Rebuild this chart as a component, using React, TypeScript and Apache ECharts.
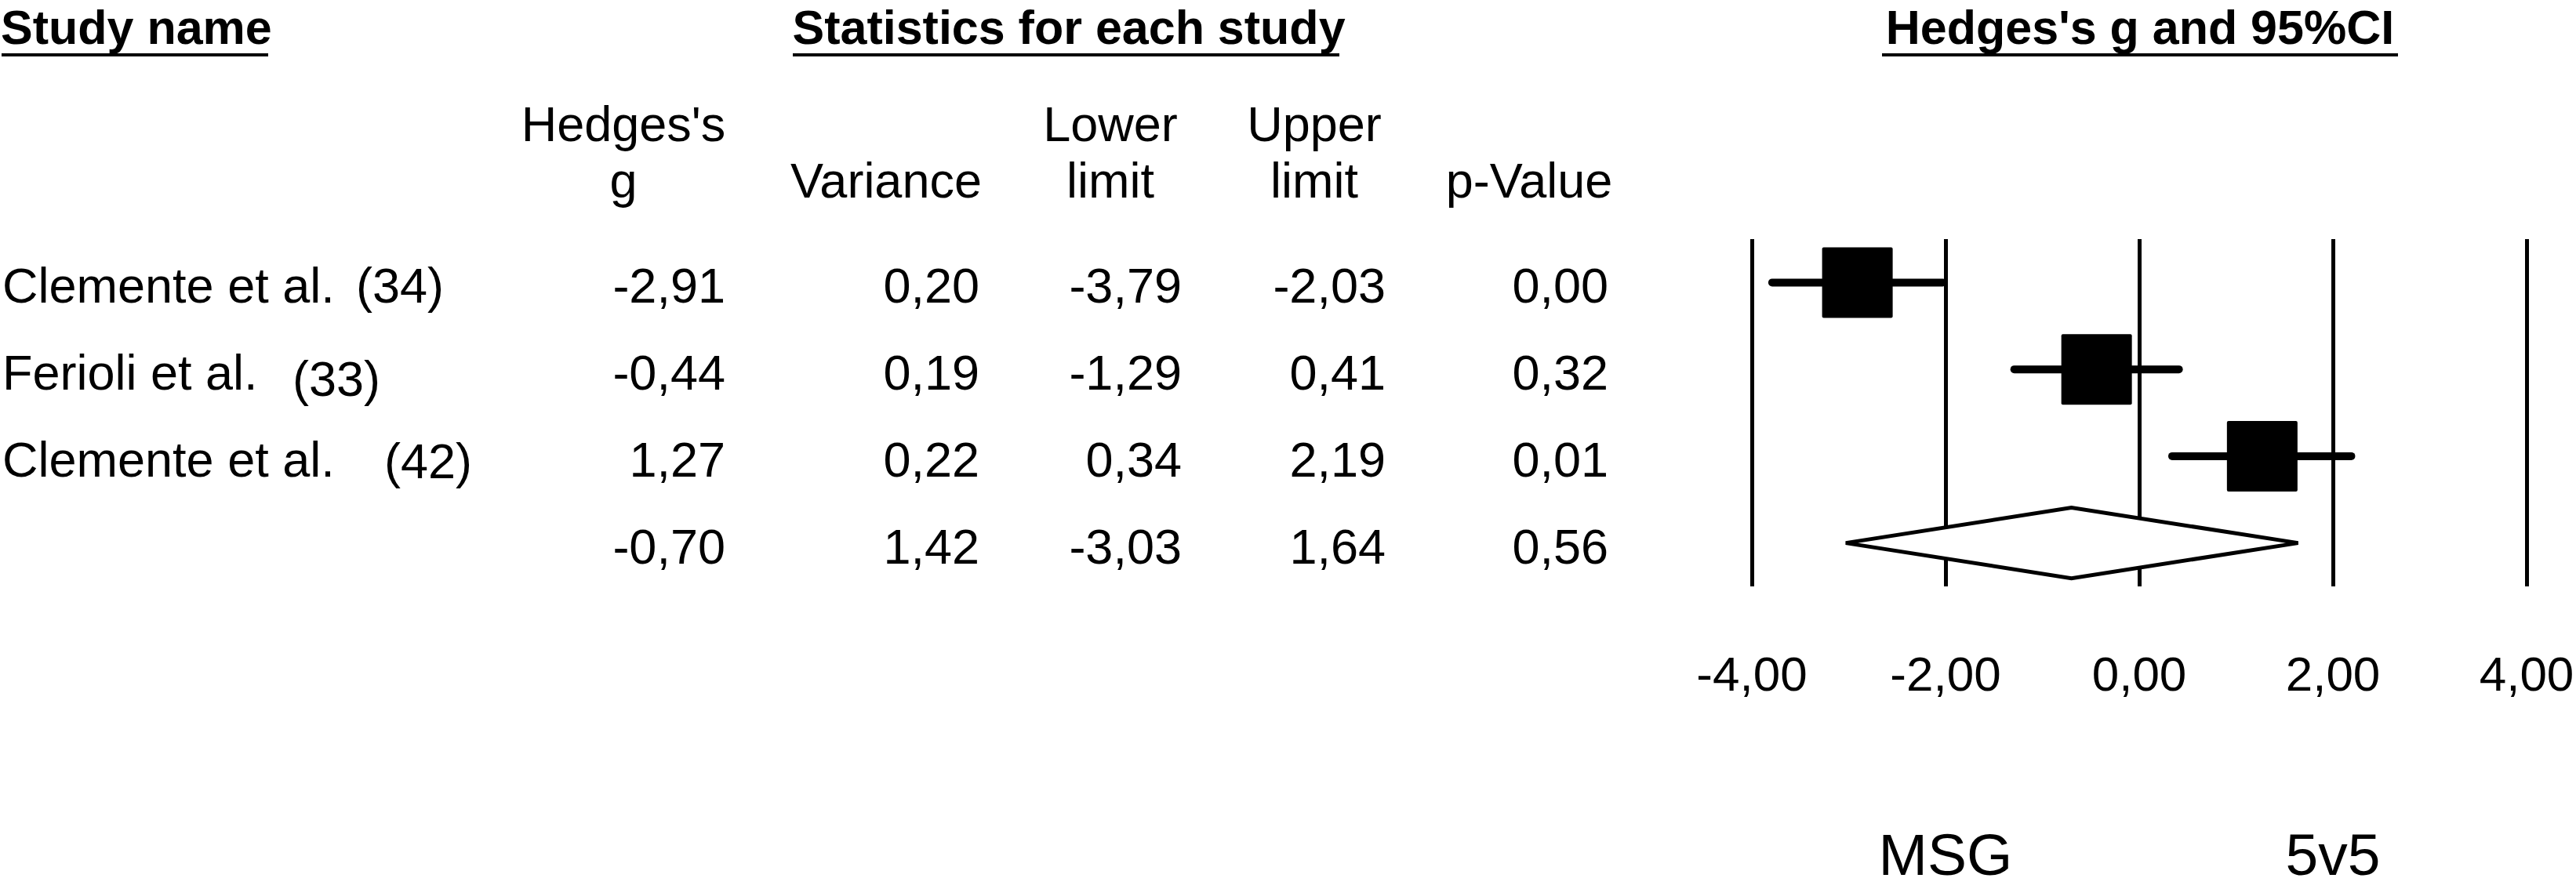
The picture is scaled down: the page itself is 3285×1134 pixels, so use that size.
import React, { useEffect, useRef } from "react";
import * as echarts from "echarts";

// ---- data ----
const studyNames = ["Clemente et al.", "Ferioli et al.", "Clemente et al."];
const studyRefs = ["(34)", "(33)", "(42)"];
const hedgesG = [-2.91, -0.44, 1.27];
const variances = [0.2, 0.19, 0.22];
const lowerLimits = [-3.79, -1.29, 0.34];
const upperLimits = [-2.03, 0.41, 2.19];
const pValues = [0.0, 0.32, 0.01];
const summaryG = -0.7;
const summaryVariance = 1.42;
const summaryLower = -3.03;
const summaryUpper = 1.64;
const summaryP = 0.56;
const xMin = -4;
const xMax = 4;
const xInterval = 2;
const groupLabels: Record<string, string> = { "-2": "MSG", "2": "5v5" };
const headerLine1 = ["Hedges's", "", "Lower", "Upper", ""];
const headerLine2 = ["g", "Variance", "limit", "limit", "p-Value"];
const sectionTitles = ["Study name", "Statistics for each study", "Hedges's g and 95%CI"];

// ---- layout ----
const FONT = '"Liberation Sans", Arial, Helvetica, sans-serif';
const W = 3285;
const H = 1134;
const rowTextY = [364, 475, 586, 697];
const refX = [454, 373, 490];
const refDy = [0, 8, 2];
const colRight = [925, 1249, 1507, 1767, 2051];
const colCenter = [795, 1130, 1416, 1676, 1950];
const titleX = [1, 1363, 2729];
const titleY = 35;
const underlineY = 70;
const titleAlign = ["left", "center", "center"];
const underline = [
  [2, 342],
  [1011, 1708],
  [2400, 3058],
];

const fmt = (v: number) => v.toFixed(2).replace(".", ",");

function buildGraphics() {
  const g: any[] = [];
  sectionTitles.forEach((t, i) => {
    g.push({
      type: "text",
      x: titleX[i],
      y: titleY,
      style: {
        text: t,
        font: `bold 61px ${FONT}`,
        lineHeight: 40,
        fill: "#000",
        align: titleAlign[i],
        verticalAlign: "middle",
      },
    });
    g.push({
      type: "line",
      shape: { x1: underline[i][0], y1: underlineY, x2: underline[i][1], y2: underlineY },
      style: { stroke: "#000", lineWidth: 4 },
    });
  });
  const txt = (text: string, x: number, y: number, align: string) => ({
    type: "text",
    x,
    y,
    style: { text, font: `63px ${FONT}`, fill: "#000", align, verticalAlign: "middle" },
  });
  headerLine1.forEach((t, i) => t && g.push(txt(t, colCenter[i], 158, "center")));
  headerLine2.forEach((t, i) => t && g.push(txt(t, colCenter[i], 230, "center")));
  studyNames.forEach((n, i) => {
    g.push(txt(n, 3, rowTextY[i], "left"));
    g.push(txt(studyRefs[i], refX[i], rowTextY[i] + refDy[i], "left"));
    const vals = [hedgesG[i], variances[i], lowerLimits[i], upperLimits[i], pValues[i]];
    vals.forEach((v, c) => g.push(txt(fmt(v), colRight[c], rowTextY[i], "right")));
  });
  const sVals = [summaryG, summaryVariance, summaryLower, summaryUpper, summaryP];
  sVals.forEach((v, c) => g.push(txt(fmt(v), colRight[c], rowTextY[3], "right")));
  return g;
}

export default function App() {
  const ref = useRef<HTMLDivElement>(null);
  useEffect(() => {
    if (!ref.current) return;
    const chart = echarts.init(ref.current, undefined, { renderer: "svg" });
    const studyData = hedgesG.map((g, i) => [i + 1, g, lowerLimits[i], upperLimits[i]]);
    const summaryData = [[4, summaryG, summaryLower, summaryUpper]];
    chart.setOption({
      animation: false,
      backgroundColor: "#fff",
      textStyle: { fontFamily: FONT, color: "#000" },
      grid: {
        left: 2234,
        right: 63,
        top: 305,
        bottom: H - 748,
        containLabel: false,
        outerBoundsMode: "none",
      },
      xAxis: [
        {
          type: "value",
          min: xMin,
          max: xMax,
          interval: xInterval,
          position: "bottom",
          axisLine: { show: false },
          axisTick: { show: false },
          splitLine: { show: true, lineStyle: { color: "#000", width: 5 } },
          axisLabel: {
            show: true,
            margin: 80,
            fontSize: 62,
            lineHeight: 62,
            color: "#000",
            fontFamily: FONT,
            formatter: (v: number) => fmt(v),
          },
        },
        {
          type: "value",
          min: xMin,
          max: xMax,
          interval: xInterval,
          position: "bottom",
          axisLine: { show: false },
          axisTick: { show: false },
          splitLine: { show: false },
          axisLabel: {
            show: true,
            margin: 312,
            fontSize: 75,
            lineHeight: 60,
            color: "#000",
            fontFamily: FONT,
            formatter: (v: number) => groupLabels[String(v)] || "",
          },
        },
      ],
      yAxis: {
        type: "value",
        min: 0.5,
        max: 4.5,
        inverse: true,
        show: false,
        splitLine: { show: false },
      },
      graphic: buildGraphics(),
      series: [
        {
          type: "custom",
          name: "studies",
          data: studyData,
          encode: { x: [1, 2, 3], y: 0 },
          renderItem: (params: any, api: any) => {
            const y = api.value(0);
            const pg = api.coord([api.value(1), y]);
            const pl = api.coord([api.value(2), y]);
            const ph = api.coord([api.value(3), y]);
            return {
              type: "group",
              children: [
                {
                  type: "line",
                  shape: { x1: pl[0], y1: pl[1], x2: ph[0], y2: ph[1] },
                  style: { stroke: "#000", lineWidth: 10, lineCap: "round" },
                },
                {
                  type: "rect",
                  shape: { x: pg[0] - 45, y: pg[1] - 45, width: 90, height: 90, r: 2 },
                  style: { fill: "#000" },
                },
              ],
            };
          },
        },
        {
          type: "custom",
          name: "summary",
          data: summaryData,
          encode: { x: [1, 2, 3], y: 0 },
          renderItem: (params: any, api: any) => {
            const y = api.value(0);
            const pg = api.coord([api.value(1), y]);
            const pl = api.coord([api.value(2), y]);
            const ph = api.coord([api.value(3), y]);
            return {
              type: "polygon",
              shape: {
                points: [
                  [pl[0], pl[1]],
                  [pg[0], pg[1] - 45],
                  [ph[0], ph[1]],
                  [pg[0], pg[1] + 45],
                ],
              },
              style: { fill: "#fff", stroke: "#000", lineWidth: 5, lineJoin: "miter" },
            };
          },
        },
      ],
    });
    return () => chart.dispose();
  }, []);
  return (
    <div
      ref={ref}
      style={{ position: "absolute", left: 0, top: 0, width: W, height: H, background: "#fff" }}
    />
  );
}
